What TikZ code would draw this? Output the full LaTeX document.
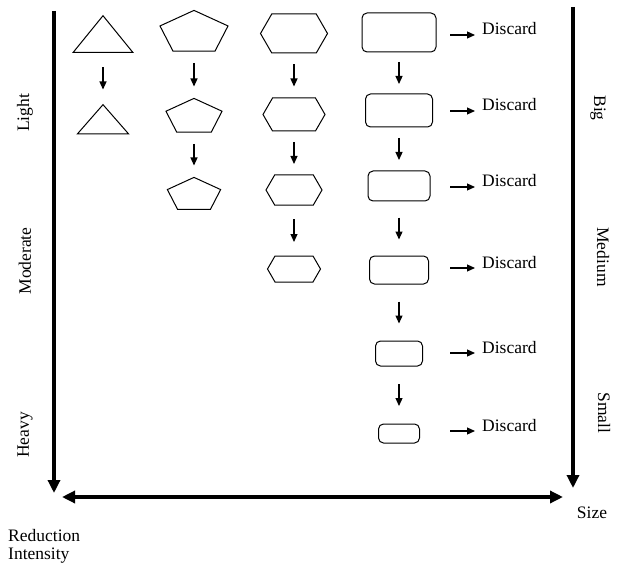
\documentclass[tikz,border=0pt]{standalone}
\usepackage{fontspec}
\setmainfont{Liberation Serif}
\usetikzlibrary{arrows.meta, shapes.geometric, shapes.symbols}
\tikzset{
    outline/.style={
        draw=black,
        line width=1pt,
        inner sep=0pt
    },
    triNode/.style 2 args={
        outline,
        regular polygon,
        regular polygon sides=3,
        minimum size=#1,
        yscale=#2,
        anchor=north
    },
    pentNode/.style={
        outline,
        regular polygon,
        regular polygon sides=5,
        minimum size=#1,
        yscale=0.63,
        anchor=north
    },
    hexNode/.style 2 args={
        outline,
        signal,
        signal to=west and east,
        signal pointer angle=120,
        minimum width=#1,
        minimum height=#2
    },
    boxNode/.style 2 args={
        outline,
        rectangle,
        rounded corners=5pt,
        minimum width=#1,
        minimum height=#2
    },
    axisText/.style={
        font=\fontsize{17.5}{18}\selectfont,
        inner sep=0pt
    },
    discardText/.style={
        axisText,
        anchor=base west,
        inner xsep=7pt
    },
    flow/.style={
        -{Triangle[length=8pt, width=7pt]},
        line width=1.2pt,
        shorten <=#1,
        shorten >=#1
    },
    pointer/.style={
        -{Triangle[length=8pt, width=7pt]},
        line width=1.2pt
    },
    axis/.style={
        line width=4pt
    }
}

\begin{document}
\begin{tikzpicture}[x=1pt, y=-1pt]
    \useasboundingbox (0,0) rectangle (618,564);

    % Axes
    \coordinate (intTop) at (54,11);
    \coordinate (intEnd) at (54,493);
    \coordinate (sizeTop) at (573,7);
    \coordinate (sizeEnd) at (573,488);
    \coordinate (spanL) at (62,497);
    \coordinate (spanR) at (563,497);
    \draw[axis, -{Triangle[length=13pt, width=12pt]}] (intTop) -- (intEnd);
    \draw[axis, -{Triangle[length=13pt, width=12pt]}] (sizeTop) -- (sizeEnd);
    \draw[axis, {Triangle[length=13pt, width=12pt]}-{Triangle[length=13pt, width=12pt]}] (spanL) -- (spanR);

    % Axis labels
    \node[axisText, rotate=90] (light) at (25,113) {Light};
    \node[axisText, rotate=90] (moderate) at (25,261) {Moderate};
    \node[axisText, rotate=90] (heavy) at (25,435) {Heavy};
    \node[axisText, rotate=-90] (big) at (598,108) {Big};
    \node[axisText, rotate=-90] (medium) at (603,257) {Medium};
    \node[axisText, rotate=-90] (small) at (604,413) {Small};
    \node[axisText] (size) at (592,513) {Size};
    \node[axisText, align=left, anchor=north west] (reduction) at (8,529) {Reduction\\Intensity};

    % Triangles
    \node[triNode={69pt}{0.71}] (t1) at (103,15) {};
    \node[triNode={59pt}{0.66}] (t2) at (103,104) {};
    \draw[flow=14.5pt] (t1.south) -- (t2.north);

    % Pentagons
    \node[pentNode=71.5pt] (p1) at (194,10) {};
    \node[pentNode=59pt] (p2) at (194,98) {};
    \node[pentNode=56pt] (p3) at (194,177) {};
    \draw[flow=11.5pt] (p1.south) -- (p2.north);
    \draw[flow=11.5pt] (p2.south) -- (p3.north);

    % Hexagons
    \node[hexNode={67pt}{39pt}] (h1) at (294,33.5) {};
    \node[hexNode={62pt}{33pt}] (h2) at (294,114.5) {};
    \node[hexNode={56pt}{30pt}] (h3) at (294,190) {};
    \node[hexNode={53pt}{26pt}] (h4) at (294,269) {};
    \draw[flow=11pt] (h1.south) -- (h2.north);
    \draw[flow=10.5pt] (h2.south) -- (h3.north);
    \draw[flow=13.5pt] (h3.south) -- (h4.north);

    % Rounded boxes
    \node[boxNode={74pt}{39pt}] (r1) at (399,32.5) {};
    \node[boxNode={67pt}{33pt}] (r2) at (399,110.5) {};
    \node[boxNode={62pt}{30pt}] (r3) at (399,186) {};
    \node[boxNode={59pt}{28pt}] (r4) at (399,270) {};
    \node[boxNode={47pt}{25pt}] (r5) at (399,353.5) {};
    \node[boxNode={41pt}{19pt}] (r6) at (399,433.5) {};
    \draw[flow=9.5pt] (r1.south) -- (r2.north);
    \draw[flow=10.5pt] (r2.south) -- (r3.north);
    \draw[flow=16pt] (r3.south) -- (r4.north);
    \draw[flow=17pt] (r4.south) -- (r5.north);
    \draw[flow=17.5pt] (r5.south) -- (r6.north);

    % Discard outputs
    \node[discardText] (dis1) at (475,35) {Discard};
    \node[discardText] (dis2) at (475,111) {Discard};
    \node[discardText] (dis3) at (475,187) {Discard};
    \node[discardText] (dis4) at (475,268) {Discard};
    \node[discardText] (dis5) at (475,353) {Discard};
    \node[discardText] (dis6) at (475,431) {Discard};
    \coordinate (cut1) at (450,35);
    \coordinate (cut2) at (450,111);
    \coordinate (cut3) at (450,187);
    \coordinate (cut4) at (450,268);
    \coordinate (cut5) at (450,353);
    \coordinate (cut6) at (450,431);
    \draw[pointer] (cut1) -- (dis1.base west);
    \draw[pointer] (cut2) -- (dis2.base west);
    \draw[pointer] (cut3) -- (dis3.base west);
    \draw[pointer] (cut4) -- (dis4.base west);
    \draw[pointer] (cut5) -- (dis5.base west);
    \draw[pointer] (cut6) -- (dis6.base west);
\end{tikzpicture}
\end{document}
